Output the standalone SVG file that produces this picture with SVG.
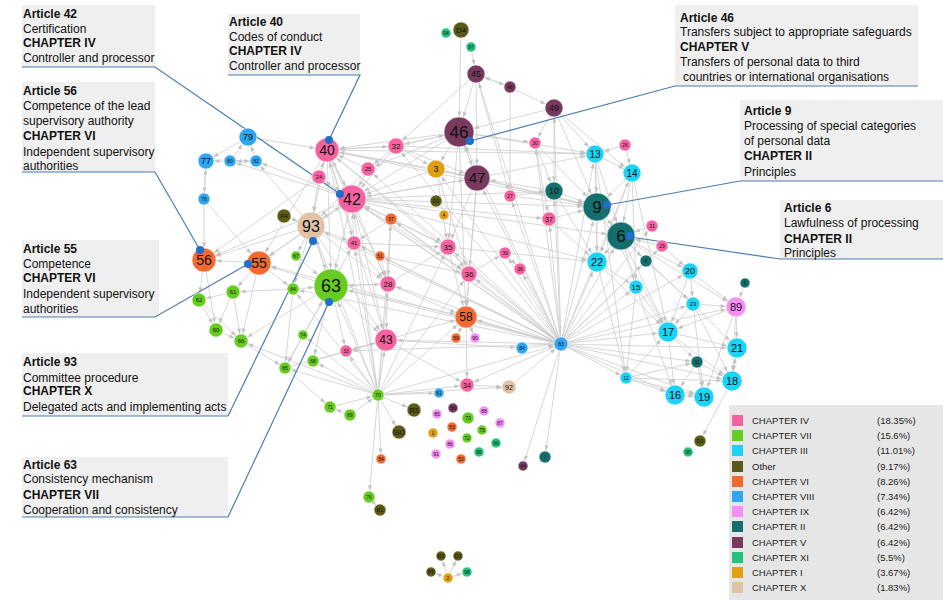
<svg xmlns="http://www.w3.org/2000/svg" width="943" height="600" viewBox="0 0 943 600">
<style>
text{font-family:"Liberation Sans",Arial,sans-serif;}
.lbl text{fill:#111;text-anchor:middle;}
#edges line{stroke:#cdcdcd;stroke-width:0.8;fill:none;}
.m5{marker-end:url(#a5)}.m6{marker-end:url(#a6)}.m7{marker-end:url(#a7)}.m8{marker-end:url(#a8)}.m9{marker-end:url(#a9)}.m10{marker-end:url(#a10)}.m11{marker-end:url(#a11)}.m12{marker-end:url(#a12)}.m13{marker-end:url(#a13)}.m14{marker-end:url(#a14)}.m15{marker-end:url(#a15)}.m17{marker-end:url(#a17)}
circle.n{stroke:#ffffff;stroke-opacity:0.55;stroke-width:1;}
.c4{fill:#f7619f}.c7{fill:#66cc22}.c3{fill:#1ad3f5}.co{fill:#5b5a16}.c6{fill:#f26a30}.c8{fill:#2fa6f0}.c9{fill:#f58ef5}.c2{fill:#146e6e}.c5{fill:#773a5e}.c11{fill:#25c27c}.c1{fill:#e0a012}.c10{fill:#e0c2a4}
.t18{font-size:18px}.t17{font-size:17px}.t16{font-size:16px}.t15{font-size:15px}.t14{font-size:14px}.t12{font-size:12px}.t11{font-size:11px}.t10{font-size:10px}.t9{font-size:9px}.t8{font-size:8px}.t7{font-size:7px}.t6{font-size:6px}.t5{font-size:5px}
.box{fill:#efefef}
.ul{stroke:#4a7cb3;stroke-width:1.2;fill:none}
.dot{fill:#1f6fcc}
.ct{font-size:12px;fill:#111}
.ct .b{font-weight:bold}
.lg{font-size:9.5px;fill:#222}
</style>
<defs>
<marker id="a5" markerUnits="userSpaceOnUse" markerWidth="6" markerHeight="6" refX="10.5" refY="3" orient="auto" overflow="visible"><path d="M0,1 L5,3 L0,5 z" fill="#c2c2c2"/></marker>
<marker id="a6" markerUnits="userSpaceOnUse" markerWidth="6" markerHeight="6" refX="11.5" refY="3" orient="auto" overflow="visible"><path d="M0,1 L5,3 L0,5 z" fill="#c2c2c2"/></marker>
<marker id="a7" markerUnits="userSpaceOnUse" markerWidth="6" markerHeight="6" refX="12.5" refY="3" orient="auto" overflow="visible"><path d="M0,1 L5,3 L0,5 z" fill="#c2c2c2"/></marker>
<marker id="a8" markerUnits="userSpaceOnUse" markerWidth="6" markerHeight="6" refX="13.5" refY="3" orient="auto" overflow="visible"><path d="M0,1 L5,3 L0,5 z" fill="#c2c2c2"/></marker>
<marker id="a9" markerUnits="userSpaceOnUse" markerWidth="6" markerHeight="6" refX="14.5" refY="3" orient="auto" overflow="visible"><path d="M0,1 L5,3 L0,5 z" fill="#c2c2c2"/></marker>
<marker id="a10" markerUnits="userSpaceOnUse" markerWidth="6" markerHeight="6" refX="15.5" refY="3" orient="auto" overflow="visible"><path d="M0,1 L5,3 L0,5 z" fill="#c2c2c2"/></marker>
<marker id="a11" markerUnits="userSpaceOnUse" markerWidth="6" markerHeight="6" refX="16.5" refY="3" orient="auto" overflow="visible"><path d="M0,1 L5,3 L0,5 z" fill="#c2c2c2"/></marker>
<marker id="a12" markerUnits="userSpaceOnUse" markerWidth="6" markerHeight="6" refX="17.5" refY="3" orient="auto" overflow="visible"><path d="M0,1 L5,3 L0,5 z" fill="#c2c2c2"/></marker>
<marker id="a13" markerUnits="userSpaceOnUse" markerWidth="6" markerHeight="6" refX="18.5" refY="3" orient="auto" overflow="visible"><path d="M0,1 L5,3 L0,5 z" fill="#c2c2c2"/></marker>
<marker id="a14" markerUnits="userSpaceOnUse" markerWidth="6" markerHeight="6" refX="19.5" refY="3" orient="auto" overflow="visible"><path d="M0,1 L5,3 L0,5 z" fill="#c2c2c2"/></marker>
<marker id="a15" markerUnits="userSpaceOnUse" markerWidth="6" markerHeight="6" refX="20.5" refY="3" orient="auto" overflow="visible"><path d="M0,1 L5,3 L0,5 z" fill="#c2c2c2"/></marker>
<marker id="a17" markerUnits="userSpaceOnUse" markerWidth="6" markerHeight="6" refX="22.5" refY="3" orient="auto" overflow="visible"><path d="M0,1 L5,3 L0,5 z" fill="#c2c2c2"/></marker>
</defs>
<rect width="943" height="600" fill="#ffffff"/>
<g id="edges">
<line x1="248" y1="137" x2="206" y2="161" class="m8"/>
<line x1="230" y1="161" x2="206" y2="161" class="m8"/>
<line x1="256" y1="161" x2="230" y2="161" class="m6"/>
<line x1="230" y1="161" x2="256" y2="161" class="m6"/>
<line x1="230" y1="161" x2="248" y2="137" class="m9"/>
<line x1="256" y1="161" x2="248" y2="137" class="m9"/>
<line x1="206" y1="161" x2="204" y2="199" class="m6"/>
<line x1="204" y1="199" x2="206" y2="161" class="m8"/>
<line x1="204" y1="199" x2="204" y2="260" class="m12"/>
<line x1="204" y1="199" x2="259" y2="263" class="m12"/>
<line x1="352" y1="199" x2="256" y2="161" class="m6"/>
<line x1="352" y1="199" x2="230" y2="161" class="m6"/>
<line x1="248" y1="137" x2="327" y2="150" class="m12"/>
<line x1="311" y1="226" x2="256" y2="161" class="m6"/>
<line x1="461" y1="30" x2="459" y2="132" class="m15"/>
<line x1="471" y1="47" x2="476" y2="74" class="m9"/>
<line x1="476" y1="74" x2="459" y2="132" class="m15"/>
<line x1="476" y1="74" x2="510" y2="87" class="m6"/>
<line x1="510" y1="87" x2="476" y2="74" class="m9"/>
<line x1="510" y1="87" x2="554" y2="108" class="m9"/>
<line x1="554" y1="108" x2="459" y2="132" class="m15"/>
<line x1="554" y1="108" x2="595" y2="154" class="m9"/>
<line x1="554" y1="108" x2="535" y2="143" class="m6"/>
<line x1="476" y1="74" x2="477" y2="178" class="m13"/>
<line x1="476" y1="74" x2="396" y2="146" class="m8"/>
<line x1="510" y1="87" x2="510" y2="196" class="m6"/>
<line x1="476" y1="74" x2="510" y2="196" class="m6"/>
<line x1="459" y1="132" x2="396" y2="146" class="m8"/>
<line x1="396" y1="146" x2="459" y2="132" class="m15"/>
<line x1="459" y1="132" x2="477" y2="178" class="m13"/>
<line x1="477" y1="178" x2="459" y2="132" class="m15"/>
<line x1="459" y1="132" x2="436" y2="169" class="m9"/>
<line x1="459" y1="132" x2="595" y2="154" class="m9"/>
<line x1="459" y1="132" x2="535" y2="143" class="m6"/>
<line x1="459" y1="132" x2="327" y2="150" class="m12"/>
<line x1="459" y1="132" x2="352" y2="199" class="m14"/>
<line x1="554" y1="108" x2="597" y2="207" class="m14"/>
<line x1="554" y1="108" x2="554" y2="191" class="m9"/>
<line x1="554" y1="108" x2="632" y2="173" class="m9"/>
<line x1="535" y1="143" x2="554" y2="191" class="m9"/>
<line x1="535" y1="143" x2="597" y2="207" class="m14"/>
<line x1="535" y1="143" x2="549" y2="219" class="m7"/>
<line x1="595" y1="154" x2="597" y2="207" class="m14"/>
<line x1="595" y1="154" x2="632" y2="173" class="m9"/>
<line x1="625" y1="145" x2="595" y2="154" class="m9"/>
<line x1="625" y1="145" x2="632" y2="173" class="m9"/>
<line x1="632" y1="173" x2="597" y2="207" class="m14"/>
<line x1="632" y1="173" x2="621" y2="236" class="m14"/>
<line x1="595" y1="154" x2="621" y2="236" class="m14"/>
<line x1="595" y1="154" x2="597" y2="262" class="m10"/>
<line x1="632" y1="173" x2="597" y2="262" class="m10"/>
<line x1="632" y1="173" x2="668" y2="332" class="m10"/>
<line x1="597" y1="207" x2="621" y2="236" class="m14"/>
<line x1="597" y1="207" x2="597" y2="262" class="m10"/>
<line x1="621" y1="236" x2="597" y2="262" class="m10"/>
<line x1="621" y1="236" x2="646" y2="261" class="m6"/>
<line x1="621" y1="236" x2="690" y2="271" class="m8"/>
<line x1="662" y1="246" x2="621" y2="236" class="m14"/>
<line x1="652" y1="226" x2="621" y2="236" class="m14"/>
<line x1="554" y1="191" x2="597" y2="207" class="m14"/>
<line x1="549" y1="219" x2="597" y2="207" class="m14"/>
<line x1="510" y1="196" x2="597" y2="207" class="m14"/>
<line x1="477" y1="178" x2="597" y2="207" class="m14"/>
<line x1="477" y1="178" x2="595" y2="154" class="m9"/>
<line x1="436" y1="169" x2="597" y2="207" class="m14"/>
<line x1="554" y1="191" x2="477" y2="178" class="m13"/>
<line x1="597" y1="262" x2="636" y2="287" class="m7"/>
<line x1="597" y1="262" x2="626" y2="378" class="m6"/>
<line x1="597" y1="262" x2="668" y2="332" class="m10"/>
<line x1="636" y1="287" x2="668" y2="332" class="m10"/>
<line x1="636" y1="287" x2="626" y2="378" class="m6"/>
<line x1="621" y1="236" x2="636" y2="287" class="m7"/>
<line x1="621" y1="236" x2="668" y2="332" class="m10"/>
<line x1="621" y1="236" x2="693" y2="304" class="m7"/>
<line x1="621" y1="236" x2="736" y2="307" class="m10"/>
<line x1="597" y1="207" x2="668" y2="332" class="m10"/>
<line x1="690" y1="271" x2="693" y2="304" class="m7"/>
<line x1="693" y1="304" x2="668" y2="332" class="m10"/>
<line x1="693" y1="304" x2="736" y2="307" class="m10"/>
<line x1="745" y1="283" x2="736" y2="307" class="m10"/>
<line x1="736" y1="307" x2="737" y2="348" class="m10"/>
<line x1="737" y1="348" x2="732" y2="381" class="m10"/>
<line x1="732" y1="381" x2="737" y2="348" class="m10"/>
<line x1="668" y1="332" x2="697" y2="362" class="m6"/>
<line x1="697" y1="362" x2="732" y2="381" class="m10"/>
<line x1="697" y1="362" x2="675" y2="395" class="m10"/>
<line x1="697" y1="362" x2="704" y2="397" class="m10"/>
<line x1="675" y1="395" x2="704" y2="397" class="m10"/>
<line x1="626" y1="378" x2="675" y2="395" class="m10"/>
<line x1="626" y1="378" x2="668" y2="332" class="m10"/>
<line x1="626" y1="378" x2="704" y2="397" class="m10"/>
<line x1="626" y1="378" x2="732" y2="381" class="m10"/>
<line x1="693" y1="304" x2="737" y2="348" class="m10"/>
<line x1="693" y1="304" x2="704" y2="397" class="m10"/>
<line x1="693" y1="304" x2="732" y2="381" class="m10"/>
<line x1="690" y1="271" x2="668" y2="332" class="m10"/>
<line x1="736" y1="307" x2="732" y2="381" class="m10"/>
<line x1="736" y1="307" x2="704" y2="397" class="m10"/>
<line x1="736" y1="307" x2="668" y2="332" class="m10"/>
<line x1="668" y1="332" x2="737" y2="348" class="m10"/>
<line x1="668" y1="332" x2="675" y2="395" class="m10"/>
<line x1="636" y1="287" x2="675" y2="395" class="m10"/>
<line x1="732" y1="381" x2="700" y2="441" class="m6"/>
<line x1="595" y1="154" x2="626" y2="378" class="m6"/>
<line x1="632" y1="173" x2="636" y2="287" class="m7"/>
<line x1="662" y1="246" x2="690" y2="271" class="m8"/>
<line x1="646" y1="261" x2="693" y2="304" class="m7"/>
<line x1="690" y1="271" x2="736" y2="307" class="m10"/>
<line x1="668" y1="332" x2="732" y2="381" class="m10"/>
<line x1="626" y1="378" x2="697" y2="362" class="m6"/>
<line x1="327" y1="150" x2="352" y2="199" class="m14"/>
<line x1="352" y1="199" x2="327" y2="150" class="m12"/>
<line x1="319" y1="177" x2="352" y2="199" class="m14"/>
<line x1="319" y1="177" x2="327" y2="150" class="m12"/>
<line x1="368" y1="169" x2="327" y2="150" class="m12"/>
<line x1="368" y1="169" x2="352" y2="199" class="m14"/>
<line x1="396" y1="146" x2="327" y2="150" class="m12"/>
<line x1="327" y1="150" x2="396" y2="146" class="m8"/>
<line x1="396" y1="146" x2="352" y2="199" class="m14"/>
<line x1="352" y1="199" x2="311" y2="226" class="m14"/>
<line x1="311" y1="226" x2="352" y2="199" class="m14"/>
<line x1="327" y1="150" x2="311" y2="226" class="m14"/>
<line x1="319" y1="177" x2="311" y2="226" class="m14"/>
<line x1="354" y1="243" x2="352" y2="199" class="m14"/>
<line x1="391" y1="219" x2="352" y2="199" class="m14"/>
<line x1="352" y1="199" x2="331" y2="286" class="m17"/>
<line x1="327" y1="150" x2="331" y2="286" class="m17"/>
<line x1="327" y1="150" x2="354" y2="243" class="m7"/>
<line x1="327" y1="150" x2="388" y2="284" class="m8"/>
<line x1="352" y1="199" x2="388" y2="284" class="m8"/>
<line x1="352" y1="199" x2="386" y2="340" class="m11"/>
<line x1="327" y1="150" x2="386" y2="340" class="m11"/>
<line x1="436" y1="169" x2="352" y2="199" class="m14"/>
<line x1="436" y1="169" x2="327" y2="150" class="m12"/>
<line x1="477" y1="178" x2="352" y2="199" class="m14"/>
<line x1="477" y1="178" x2="327" y2="150" class="m12"/>
<line x1="459" y1="132" x2="368" y2="169" class="m7"/>
<line x1="396" y1="146" x2="436" y2="169" class="m9"/>
<line x1="396" y1="146" x2="477" y2="178" class="m13"/>
<line x1="352" y1="199" x2="477" y2="178" class="m13"/>
<line x1="352" y1="199" x2="448" y2="247" class="m8"/>
<line x1="327" y1="150" x2="448" y2="247" class="m8"/>
<line x1="352" y1="199" x2="469" y2="274" class="m8"/>
<line x1="352" y1="199" x2="549" y2="219" class="m7"/>
<line x1="352" y1="199" x2="554" y2="191" class="m9"/>
<line x1="352" y1="199" x2="597" y2="207" class="m14"/>
<line x1="327" y1="150" x2="597" y2="207" class="m14"/>
<line x1="327" y1="150" x2="595" y2="154" class="m9"/>
<line x1="396" y1="146" x2="595" y2="154" class="m9"/>
<line x1="352" y1="199" x2="597" y2="262" class="m10"/>
<line x1="352" y1="199" x2="621" y2="236" class="m14"/>
<line x1="352" y1="199" x2="204" y2="260" class="m12"/>
<line x1="327" y1="150" x2="259" y2="263" class="m12"/>
<line x1="352" y1="199" x2="259" y2="263" class="m12"/>
<line x1="319" y1="177" x2="204" y2="260" class="m12"/>
<line x1="368" y1="169" x2="311" y2="226" class="m14"/>
<line x1="436" y1="169" x2="477" y2="178" class="m13"/>
<line x1="396" y1="146" x2="368" y2="169" class="m7"/>
<line x1="284" y1="216" x2="311" y2="226" class="m14"/>
<line x1="311" y1="226" x2="204" y2="260" class="m12"/>
<line x1="311" y1="226" x2="259" y2="263" class="m12"/>
<line x1="311" y1="226" x2="331" y2="286" class="m17"/>
<line x1="331" y1="286" x2="311" y2="226" class="m14"/>
<line x1="311" y1="226" x2="354" y2="243" class="m7"/>
<line x1="311" y1="226" x2="293" y2="289" class="m6"/>
<line x1="311" y1="226" x2="388" y2="284" class="m8"/>
<line x1="311" y1="226" x2="386" y2="340" class="m11"/>
<line x1="311" y1="226" x2="296" y2="256" class="m5"/>
<line x1="259" y1="263" x2="204" y2="260" class="m12"/>
<line x1="204" y1="260" x2="199" y2="300" class="m7"/>
<line x1="259" y1="263" x2="233" y2="292" class="m7"/>
<line x1="233" y1="292" x2="199" y2="300" class="m7"/>
<line x1="199" y1="300" x2="216" y2="330" class="m7"/>
<line x1="216" y1="330" x2="241" y2="341" class="m7"/>
<line x1="233" y1="292" x2="241" y2="341" class="m7"/>
<line x1="241" y1="341" x2="285" y2="368" class="m6"/>
<line x1="293" y1="289" x2="233" y2="292" class="m7"/>
<line x1="293" y1="289" x2="285" y2="368" class="m6"/>
<line x1="303" y1="335" x2="285" y2="368" class="m6"/>
<line x1="296" y1="256" x2="331" y2="286" class="m17"/>
<line x1="293" y1="289" x2="331" y2="286" class="m17"/>
<line x1="199" y1="300" x2="241" y2="341" class="m7"/>
<line x1="259" y1="263" x2="293" y2="289" class="m6"/>
<line x1="331" y1="286" x2="259" y2="263" class="m12"/>
<line x1="331" y1="286" x2="354" y2="243" class="m7"/>
<line x1="331" y1="286" x2="388" y2="284" class="m8"/>
<line x1="388" y1="284" x2="331" y2="286" class="m17"/>
<line x1="331" y1="286" x2="386" y2="340" class="m11"/>
<line x1="331" y1="286" x2="346" y2="351" class="m6"/>
<line x1="331" y1="286" x2="313" y2="361" class="m6"/>
<line x1="331" y1="286" x2="285" y2="368" class="m6"/>
<line x1="331" y1="286" x2="241" y2="341" class="m7"/>
<line x1="233" y1="292" x2="216" y2="330" class="m7"/>
<line x1="204" y1="260" x2="216" y2="330" class="m7"/>
<line x1="259" y1="263" x2="241" y2="341" class="m7"/>
<line x1="388" y1="284" x2="386" y2="340" class="m11"/>
<line x1="391" y1="219" x2="388" y2="284" class="m8"/>
<line x1="380" y1="256" x2="388" y2="284" class="m8"/>
<line x1="391" y1="219" x2="354" y2="243" class="m7"/>
<line x1="380" y1="256" x2="354" y2="243" class="m7"/>
<line x1="354" y1="243" x2="388" y2="284" class="m8"/>
<line x1="386" y1="340" x2="346" y2="351" class="m6"/>
<line x1="388" y1="284" x2="466" y2="317" class="m11"/>
<line x1="386" y1="340" x2="466" y2="317" class="m11"/>
<line x1="448" y1="247" x2="469" y2="274" class="m8"/>
<line x1="469" y1="274" x2="466" y2="317" class="m11"/>
<line x1="466" y1="317" x2="456" y2="338" class="m5"/>
<line x1="466" y1="317" x2="475" y2="338" class="m5"/>
<line x1="466" y1="317" x2="561" y2="344" class="m7"/>
<line x1="561" y1="344" x2="466" y2="317" class="m11"/>
<line x1="505" y1="253" x2="520" y2="269" class="m6"/>
<line x1="469" y1="274" x2="505" y2="253" class="m6"/>
<line x1="448" y1="247" x2="466" y2="317" class="m11"/>
<line x1="354" y1="243" x2="448" y2="247" class="m8"/>
<line x1="388" y1="284" x2="448" y2="247" class="m8"/>
<line x1="391" y1="219" x2="448" y2="247" class="m8"/>
<line x1="391" y1="219" x2="469" y2="274" class="m8"/>
<line x1="380" y1="256" x2="469" y2="274" class="m8"/>
<line x1="436" y1="169" x2="448" y2="247" class="m8"/>
<line x1="436" y1="169" x2="469" y2="274" class="m8"/>
<line x1="477" y1="178" x2="448" y2="247" class="m8"/>
<line x1="477" y1="178" x2="469" y2="274" class="m8"/>
<line x1="477" y1="178" x2="466" y2="317" class="m11"/>
<line x1="459" y1="132" x2="448" y2="247" class="m8"/>
<line x1="459" y1="132" x2="466" y2="317" class="m11"/>
<line x1="448" y1="247" x2="597" y2="262" class="m10"/>
<line x1="549" y1="219" x2="597" y2="262" class="m10"/>
<line x1="554" y1="191" x2="597" y2="262" class="m10"/>
<line x1="510" y1="196" x2="554" y2="191" class="m9"/>
<line x1="386" y1="340" x2="522" y2="348" class="m6"/>
<line x1="522" y1="348" x2="561" y2="344" class="m7"/>
<line x1="313" y1="361" x2="386" y2="340" class="m11"/>
<line x1="285" y1="368" x2="386" y2="340" class="m11"/>
<line x1="303" y1="335" x2="331" y2="286" class="m17"/>
<line x1="331" y1="286" x2="466" y2="317" class="m11"/>
<line x1="467" y1="385" x2="509" y2="387" class="m7"/>
<line x1="509" y1="387" x2="561" y2="344" class="m7"/>
<line x1="466" y1="317" x2="467" y2="385" class="m7"/>
<line x1="386" y1="340" x2="467" y2="385" class="m7"/>
<line x1="448" y1="578" x2="441" y2="556" class="m5"/>
<line x1="448" y1="578" x2="458" y2="556" class="m5"/>
<line x1="448" y1="578" x2="431" y2="572" class="m5"/>
<line x1="448" y1="578" x2="467" y2="572" class="m5"/>
<line x1="369" y1="497" x2="380" y2="510" class="m6"/>
<line x1="378" y1="395" x2="369" y2="497" class="m6"/>
<line x1="378" y1="395" x2="381" y2="459" class="m5"/>
<line x1="378" y1="395" x2="399" y2="432" class="m7"/>
<line x1="378" y1="395" x2="414" y2="410" class="m7"/>
<line x1="330" y1="407" x2="378" y2="395" class="m6"/>
<line x1="350" y1="415" x2="378" y2="395" class="m6"/>
<line x1="350" y1="415" x2="330" y2="407" class="m6"/>
<line x1="285" y1="368" x2="330" y2="407" class="m6"/>
<line x1="378" y1="395" x2="331" y2="286" class="m17"/>
<line x1="378" y1="395" x2="293" y2="289" class="m6"/>
<line x1="378" y1="395" x2="285" y2="368" class="m6"/>
<line x1="378" y1="395" x2="241" y2="341" class="m7"/>
<line x1="378" y1="395" x2="313" y2="361" class="m6"/>
<line x1="378" y1="395" x2="303" y2="335" class="m5"/>
<line x1="378" y1="395" x2="386" y2="340" class="m11"/>
<line x1="378" y1="395" x2="346" y2="351" class="m6"/>
<line x1="378" y1="395" x2="388" y2="284" class="m8"/>
<line x1="378" y1="395" x2="352" y2="199" class="m14"/>
<line x1="378" y1="395" x2="327" y2="150" class="m12"/>
<line x1="378" y1="395" x2="354" y2="243" class="m7"/>
<line x1="378" y1="395" x2="311" y2="226" class="m14"/>
<line x1="378" y1="395" x2="466" y2="317" class="m11"/>
<line x1="378" y1="395" x2="448" y2="247" class="m8"/>
<line x1="378" y1="395" x2="561" y2="344" class="m7"/>
<line x1="378" y1="395" x2="439" y2="393" class="m5"/>
<line x1="378" y1="395" x2="467" y2="385" class="m7"/>
<line x1="378" y1="395" x2="509" y2="387" class="m7"/>
<line x1="378" y1="395" x2="391" y2="219" class="m6"/>
<line x1="378" y1="395" x2="469" y2="274" class="m8"/>
<line x1="561" y1="344" x2="352" y2="199" class="m14"/>
<line x1="561" y1="344" x2="327" y2="150" class="m12"/>
<line x1="561" y1="344" x2="459" y2="132" class="m15"/>
<line x1="561" y1="344" x2="477" y2="178" class="m13"/>
<line x1="561" y1="344" x2="597" y2="207" class="m14"/>
<line x1="561" y1="344" x2="621" y2="236" class="m14"/>
<line x1="561" y1="344" x2="597" y2="262" class="m10"/>
<line x1="561" y1="344" x2="595" y2="154" class="m9"/>
<line x1="561" y1="344" x2="632" y2="173" class="m9"/>
<line x1="561" y1="344" x2="554" y2="191" class="m9"/>
<line x1="561" y1="344" x2="549" y2="219" class="m7"/>
<line x1="561" y1="344" x2="510" y2="196" class="m6"/>
<line x1="561" y1="344" x2="436" y2="169" class="m9"/>
<line x1="561" y1="344" x2="448" y2="247" class="m8"/>
<line x1="561" y1="344" x2="469" y2="274" class="m8"/>
<line x1="561" y1="344" x2="388" y2="284" class="m8"/>
<line x1="561" y1="344" x2="386" y2="340" class="m11"/>
<line x1="561" y1="344" x2="331" y2="286" class="m17"/>
<line x1="561" y1="344" x2="311" y2="226" class="m14"/>
<line x1="561" y1="344" x2="354" y2="243" class="m7"/>
<line x1="561" y1="344" x2="391" y2="219" class="m6"/>
<line x1="561" y1="344" x2="505" y2="253" class="m6"/>
<line x1="561" y1="344" x2="520" y2="269" class="m6"/>
<line x1="561" y1="344" x2="636" y2="287" class="m7"/>
<line x1="561" y1="344" x2="668" y2="332" class="m10"/>
<line x1="561" y1="344" x2="626" y2="378" class="m6"/>
<line x1="561" y1="344" x2="675" y2="395" class="m10"/>
<line x1="561" y1="344" x2="704" y2="397" class="m10"/>
<line x1="561" y1="344" x2="732" y2="381" class="m10"/>
<line x1="561" y1="344" x2="737" y2="348" class="m10"/>
<line x1="561" y1="344" x2="693" y2="304" class="m7"/>
<line x1="561" y1="344" x2="690" y2="271" class="m8"/>
<line x1="561" y1="344" x2="736" y2="307" class="m10"/>
<line x1="561" y1="344" x2="646" y2="261" class="m6"/>
<line x1="561" y1="344" x2="697" y2="362" class="m6"/>
<line x1="561" y1="344" x2="545" y2="457" class="m6"/>
<line x1="561" y1="344" x2="523" y2="466" class="m5"/>
<line x1="561" y1="344" x2="346" y2="351" class="m6"/>
<line x1="561" y1="344" x2="319" y2="177" class="m7"/>
<line x1="561" y1="344" x2="368" y2="169" class="m7"/>
<line x1="561" y1="344" x2="396" y2="146" class="m8"/>
<line x1="561" y1="344" x2="476" y2="74" class="m9"/>
<line x1="561" y1="344" x2="554" y2="108" class="m9"/>
<line x1="561" y1="344" x2="535" y2="143" class="m6"/>
<line x1="561" y1="344" x2="652" y2="226" class="m6"/>
<line x1="561" y1="344" x2="662" y2="246" class="m6"/>
<line x1="561" y1="344" x2="259" y2="263" class="m12"/>
<line x1="561" y1="344" x2="293" y2="289" class="m6"/>
<line x1="561" y1="344" x2="380" y2="256" class="m5"/>
<line x1="561" y1="344" x2="467" y2="385" class="m7"/>
</g>
<g id="callouts">
<rect class="box" x="22" y="5" width="133" height="62"/>
<path class="ul" d="M22,67 H155 L340,194"/>
<text class="ct" x="23"><tspan class="b" x="23" y="18">Article 42</tspan><tspan x="23" y="33">Certification</tspan><tspan class="b" x="23" y="47">CHAPTER IV</tspan><tspan x="23" y="62">Controller and processor</tspan></text>
<rect class="box" x="228" y="14" width="132" height="61"/>
<path class="ul" d="M228,75 H360 L329,140"/>
<text class="ct"><tspan class="b" x="229" y="26">Article 40</tspan><tspan x="229" y="41">Codes of conduct</tspan><tspan class="b" x="229" y="55">CHAPTER IV</tspan><tspan x="229" y="70">Controller and processor</tspan></text>
<rect class="box" x="22" y="82" width="133" height="90"/>
<path class="ul" d="M22,172 H155 L200,250"/>
<text class="ct"><tspan class="b" x="23" y="95">Article 56</tspan><tspan x="23" y="110">Competence of the lead</tspan><tspan x="23" y="125">supervisory authority</tspan><tspan class="b" x="23" y="140">CHAPTER VI</tspan><tspan x="23" y="156">Independent supervisory</tspan><tspan x="23" y="170">authorities</tspan></text>
<rect class="box" x="22" y="240" width="137" height="77"/>
<path class="ul" d="M22,317 H155 L248,264"/>
<text class="ct"><tspan class="b" x="23" y="253">Article 55</tspan><tspan x="23" y="267.5">Competence</tspan><tspan class="b" x="23" y="282">CHAPTER VI</tspan><tspan x="23" y="297.5">Independent supervisory</tspan><tspan x="23" y="313">authorities</tspan></text>
<rect class="box" x="22" y="353" width="206" height="63"/>
<path class="ul" d="M22,416 H228 L313,241"/>
<text class="ct"><tspan class="b" x="23" y="366">Article 93</tspan><tspan x="23" y="381.5">Committee procedure</tspan><tspan class="b" x="23" y="395">CHAPTER X</tspan><tspan x="23" y="410.5">Delegated acts and implementing acts</tspan></text>
<rect class="box" x="22" y="457" width="206" height="60"/>
<path class="ul" d="M22,517 H228 L329,302"/>
<text class="ct"><tspan class="b" x="23" y="469">Article 63</tspan><tspan x="23" y="482.5">Consistency mechanism</tspan><tspan class="b" x="23" y="498.5">CHAPTER VII</tspan><tspan x="23" y="514">Cooperation and consistency</tspan></text>
<rect class="box" x="675" y="5" width="243" height="81"/>
<path class="ul" d="M918,86 H675 L470,141"/>
<text class="ct"><tspan class="b" x="680" y="21.5">Article 46</tspan><tspan x="680" y="36">Transfers subject to appropriate safeguards</tspan><tspan class="b" x="680" y="50.5">CHAPTER V</tspan><tspan x="680" y="65.5">Transfers of personal data to third</tspan><tspan x="683" y="80.5">countries or international organisations</tspan></text>
<rect class="box" x="740" y="100" width="203" height="81"/>
<path class="ul" d="M943,181 H740 L607,205"/>
<text class="ct"><tspan class="b" x="744" y="114.5">Article 9</tspan><tspan x="744" y="129.5">Processing of special categories</tspan><tspan x="744" y="144.5">of personal data</tspan><tspan class="b" x="744" y="159.5">CHAPTER II</tspan><tspan x="744" y="175.5">Principles</tspan></text>
<rect class="box" x="780" y="200" width="163" height="59"/>
<path class="ul" d="M943,259 H780 L630,237"/>
<text class="ct"><tspan class="b" x="784" y="211.5">Article 6</tspan><tspan x="784" y="226.5">Lawfulness of processing</tspan><tspan class="b" x="784" y="242.5">CHAPTER II</tspan><tspan x="784" y="256.5">Principles</tspan></text>
</g>
<g class="lbl">
<g id="n79"><circle class="n c8" cx="248" cy="137" r="9"/><text class="t9" x="248" y="140.2">79</text></g>
<g id="n77"><circle class="n c8" cx="206" cy="161" r="8"/><text class="t9" x="206" y="164.2">77</text></g>
<g id="n80"><circle class="n c8" cx="230" cy="161" r="6"/><text class="t5" x="230" y="162.8">80</text></g>
<g id="n82"><circle class="n c8" cx="256" cy="161" r="6"/><text class="t5" x="256" y="162.8">82</text></g>
<g id="n78"><circle class="n c8" cx="204" cy="199" r="6"/><text class="t5" x="204" y="200.8">78</text></g>
<g id="n40"><circle class="n c4" cx="327" cy="150" r="12"/><text class="t14" x="327" y="154.9">40</text></g>
<g id="n32"><circle class="n c4" cx="396" cy="146" r="8"/><text class="t8" x="396" y="148.8">32</text></g>
<g id="n24"><circle class="n c4" cx="319" cy="177" r="7"/><text class="t6" x="319" y="179.1">24</text></g>
<g id="n25"><circle class="n c4" cx="368" cy="169" r="7"/><text class="t6" x="368" y="171.1">25</text></g>
<g id="n42"><circle class="n c4" cx="352" cy="199" r="14"/><text class="t16" x="352" y="204.6">42</text></g>
<g id="nR4"><circle class="n co" cx="284" cy="216" r="7"/><text class="t6" x="284" y="218.1">R4</text></g>
<g id="n93"><circle class="n c10" cx="311" cy="226" r="14"/><text class="t16" x="311" y="231.6">93</text></g>
<g id="n57"><circle class="n c6" cx="391" cy="219" r="6"/><text class="t5" x="391" y="220.8">57</text></g>
<g id="n41"><circle class="n c4" cx="354" cy="243" r="7"/><text class="t6" x="354" y="245.1">41</text></g>
<g id="n94"><circle class="n c11" cx="446" cy="33" r="5"/><text class="t5" x="446" y="34.8">94</text></g>
<g id="nD4"><circle class="n co" cx="461" cy="30" r="8"/><text class="t8" x="461" y="32.8">D4</text></g>
<g id="n97"><circle class="n c11" cx="471" cy="47" r="5"/><text class="t5" x="471" y="48.8">97</text></g>
<g id="n45"><circle class="n c5" cx="476" cy="74" r="9"/><text class="t9" x="476" y="77.2">45</text></g>
<g id="n48"><circle class="n c5" cx="510" cy="87" r="6"/><text class="t5" x="510" y="88.8">48</text></g>
<g id="n49"><circle class="n c5" cx="554" cy="108" r="9"/><text class="t9" x="554" y="111.2">49</text></g>
<g id="n46"><circle class="n c5" cx="459" cy="132" r="15"/><text class="t17" x="459" y="138">46</text></g>
<g id="n30"><circle class="n c4" cx="535" cy="143" r="6"/><text class="t5" x="535" y="144.8">30</text></g>
<g id="n13"><circle class="n c3" cx="595" cy="154" r="9"/><text class="t10" x="595" y="157.5">13</text></g>
<g id="n3"><circle class="n c1" cx="436" cy="169" r="9"/><text class="t9" x="436" y="172.2">3</text></g>
<g id="n47"><circle class="n c5" cx="477" cy="178" r="13"/><text class="t15" x="477" y="183.3">47</text></g>
<g id="n27"><circle class="n c4" cx="510" cy="196" r="6"/><text class="t5" x="510" y="197.8">27</text></g>
<g id="n10"><circle class="n c2" cx="554" cy="191" r="9"/><text class="t9" x="554" y="194.2">10</text></g>
<g id="n26"><circle class="n c4" cx="625" cy="145" r="6"/><text class="t5" x="625" y="146.8">26</text></g>
<g id="n14"><circle class="n c3" cx="632" cy="173" r="9"/><text class="t10" x="632" y="176.5">14</text></g>
<g id="n9"><circle class="n c2" cx="597" cy="207" r="14"/><text class="t17" x="597" y="213">9</text></g>
<g id="n37"><circle class="n c4" cx="549" cy="219" r="7"/><text class="t7" x="549" y="221.5">37</text></g>
<g id="n31"><circle class="n c4" cx="652" cy="226" r="6"/><text class="t5" x="652" y="227.8">31</text></g>
<g id="n6"><circle class="n c2" cx="621" cy="236" r="14"/><text class="t17" x="621" y="242">6</text></g>
<g id="n29"><circle class="n c4" cx="662" cy="246" r="6"/><text class="t5" x="662" y="247.8">29</text></g>
<g id="n22"><circle class="n c3" cx="597" cy="262" r="10"/><text class="t11" x="597" y="265.9">22</text></g>
<g id="n8"><circle class="n c2" cx="646" cy="261" r="6"/><text class="t5" x="646" y="262.8">8</text></g>
<g id="n20"><circle class="n c3" cx="690" cy="271" r="8"/><text class="t9" x="690" y="274.2">20</text></g>
<g id="n56"><circle class="n c6" cx="204" cy="260" r="12"/><text class="t14" x="204" y="264.9">56</text></g>
<g id="n55"><circle class="n c6" cx="259" cy="263" r="12"/><text class="t14" x="259" y="267.9">55</text></g>
<g id="n67"><circle class="n c7" cx="296" cy="256" r="5"/><text class="t5" x="296" y="257.8">67</text></g>
<g id="n51"><circle class="n c6" cx="380" cy="256" r="5"/><text class="t5" x="380" y="257.8">51</text></g>
<g id="n62"><circle class="n c7" cx="199" cy="300" r="7"/><text class="t6" x="199" y="302.1">62</text></g>
<g id="n61"><circle class="n c7" cx="233" cy="292" r="7"/><text class="t6" x="233" y="294.1">61</text></g>
<g id="n64"><circle class="n c7" cx="293" cy="289" r="6"/><text class="t5" x="293" y="290.8">64</text></g>
<g id="n63"><circle class="n c7" cx="331" cy="286" r="17"/><text class="t18" x="331" y="292.3">63</text></g>
<g id="n28"><circle class="n c4" cx="388" cy="284" r="8"/><text class="t8" x="388" y="286.8">28</text></g>
<g id="n60"><circle class="n c7" cx="216" cy="330" r="7"/><text class="t6" x="216" y="332.1">60</text></g>
<g id="n66"><circle class="n c7" cx="241" cy="341" r="7"/><text class="t6" x="241" y="343.1">66</text></g>
<g id="n74"><circle class="n c7" cx="303" cy="335" r="5"/><text class="t5" x="303" y="336.8">74</text></g>
<g id="n43"><circle class="n c4" cx="386" cy="340" r="11"/><text class="t12" x="386" y="344.2">43</text></g>
<g id="n33"><circle class="n c4" cx="346" cy="351" r="6"/><text class="t5" x="346" y="352.8">33</text></g>
<g id="n68"><circle class="n c7" cx="313" cy="361" r="6"/><text class="t5" x="313" y="362.8">68</text></g>
<g id="n65"><circle class="n c7" cx="285" cy="368" r="6"/><text class="t5" x="285" y="369.8">65</text></g>
<g id="nD1"><circle class="n co" cx="436" cy="201" r="6"/><text class="t5" x="436" y="202.8">D1</text></g>
<g id="n4"><circle class="n c1" cx="444" cy="215" r="5"/><text class="t5" x="444" y="216.8">4</text></g>
<g id="n35"><circle class="n c4" cx="448" cy="247" r="8"/><text class="t8" x="448" y="249.8">35</text></g>
<g id="n39"><circle class="n c4" cx="505" cy="253" r="6"/><text class="t5" x="505" y="254.8">39</text></g>
<g id="n38"><circle class="n c4" cx="520" cy="269" r="6"/><text class="t5" x="520" y="270.8">38</text></g>
<g id="n36"><circle class="n c4" cx="469" cy="274" r="8"/><text class="t8" x="469" y="276.8">36</text></g>
<g id="n58"><circle class="n c6" cx="466" cy="317" r="11"/><text class="t12" x="466" y="321.2">58</text></g>
<g id="n59"><circle class="n c6" cx="456" cy="338" r="5"/><text class="t5" x="456" y="339.8">59</text></g>
<g id="n90"><circle class="n c9" cx="475" cy="338" r="5"/><text class="t5" x="475" y="339.8">90</text></g>
<g id="n84"><circle class="n c8" cx="522" cy="348" r="6"/><text class="t5" x="522" y="349.8">84</text></g>
<g id="n83"><circle class="n c8" cx="561" cy="344" r="7"/><text class="t5" x="561" y="345.8">83</text></g>
<g id="n5"><circle class="n c2" cx="745" cy="283" r="5"/><text class="t5" x="745" y="284.8">5</text></g>
<g id="n15"><circle class="n c3" cx="636" cy="287" r="7"/><text class="t8" x="636" y="289.8">15</text></g>
<g id="n23"><circle class="n c3" cx="693" cy="304" r="7"/><text class="t6" x="693" y="306.1">23</text></g>
<g id="n89"><circle class="n c9" cx="736" cy="307" r="10"/><text class="t11" x="736" y="310.9">89</text></g>
<g id="n17"><circle class="n c3" cx="668" cy="332" r="10"/><text class="t11" x="668" y="335.9">17</text></g>
<g id="n21"><circle class="n c3" cx="737" cy="348" r="10"/><text class="t11" x="737" y="351.9">21</text></g>
<g id="n11"><circle class="n c2" cx="697" cy="362" r="6"/><text class="t5" x="697" y="363.8">11</text></g>
<g id="n12"><circle class="n c3" cx="626" cy="378" r="6"/><text class="t5" x="626" y="379.8">12</text></g>
<g id="n18"><circle class="n c3" cx="732" cy="381" r="10"/><text class="t11" x="732" y="384.9">18</text></g>
<g id="n16"><circle class="n c3" cx="675" cy="395" r="10"/><text class="t11" x="675" y="398.9">16</text></g>
<g id="n19"><circle class="n c3" cx="704" cy="397" r="10"/><text class="t11" x="704" y="400.9">19</text></g>
<g id="n71"><circle class="n c7" cx="330" cy="407" r="6"/><text class="t5" x="330" y="408.8">71</text></g>
<g id="n69"><circle class="n c7" cx="350" cy="415" r="6"/><text class="t5" x="350" y="416.8">69</text></g>
<g id="n70"><circle class="n c7" cx="378" cy="395" r="6"/><text class="t5" x="378" y="396.8">70</text></g>
<g id="n81"><circle class="n c8" cx="439" cy="393" r="5"/><text class="t5" x="439" y="394.8">81</text></g>
<g id="n34"><circle class="n c4" cx="467" cy="385" r="7"/><text class="t7" x="467" y="387.5">34</text></g>
<g id="n92"><circle class="n c10" cx="509" cy="387" r="7"/><text class="t7" x="509" y="389.5">92</text></g>
<g id="nR3"><circle class="n co" cx="414" cy="410" r="7"/><text class="t7" x="414" y="412.5">R3</text></g>
<g id="nISO"><circle class="n co" cx="399" cy="432" r="7"/><text class="t7" x="399" y="434.5">ISO</text></g>
<g id="n85"><circle class="n c9" cx="437" cy="414" r="5"/><text class="t5" x="437" y="415.8">85</text></g>
<g id="n50"><circle class="n c5" cx="453" cy="408" r="5"/><text class="t5" x="453" y="409.8">50</text></g>
<g id="n73"><circle class="n c7" cx="468" cy="418" r="6"/><text class="t5" x="468" y="419.8">73</text></g>
<g id="n88"><circle class="n c9" cx="484" cy="411" r="5"/><text class="t5" x="484" y="412.8">88</text></g>
<g id="n87"><circle class="n c9" cx="500" cy="423" r="5"/><text class="t5" x="500" y="424.8">87</text></g>
<g id="n53"><circle class="n c6" cx="452" cy="427" r="5"/><text class="t5" x="452" y="428.8">53</text></g>
<g id="n75"><circle class="n c7" cx="482" cy="430" r="5"/><text class="t5" x="482" y="431.8">75</text></g>
<g id="n1"><circle class="n c1" cx="433" cy="433" r="5"/><text class="t5" x="433" y="434.8">1</text></g>
<g id="n72"><circle class="n c7" cx="467" cy="438" r="5"/><text class="t5" x="467" y="439.8">72</text></g>
<g id="n86"><circle class="n c9" cx="450" cy="444" r="5"/><text class="t5" x="450" y="445.8">86</text></g>
<g id="n99"><circle class="n c11" cx="496" cy="443" r="5"/><text class="t5" x="496" y="444.8">99</text></g>
<g id="n96"><circle class="n c11" cx="479" cy="452" r="5"/><text class="t5" x="479" y="453.8">96</text></g>
<g id="n91"><circle class="n c9" cx="436" cy="454" r="5"/><text class="t5" x="436" y="455.8">91</text></g>
<g id="n52"><circle class="n c6" cx="461" cy="459" r="5"/><text class="t5" x="461" y="460.8">52</text></g>
<g id="n54"><circle class="n c6" cx="381" cy="459" r="5"/><text class="t5" x="381" y="460.8">54</text></g>
<g id="n76"><circle class="n c7" cx="369" cy="497" r="6"/><text class="t5" x="369" y="498.8">76</text></g>
<g id="nR1"><circle class="n co" cx="380" cy="510" r="6"/><text class="t5" x="380" y="511.8">R1</text></g>
<g id="n44"><circle class="n c5" cx="523" cy="466" r="5"/><text class="t5" x="523" y="467.8">44</text></g>
<g id="n7"><circle class="n c2" cx="545" cy="457" r="6"/><text class="t5" x="545" y="458.8">7</text></g>
<g id="nD3"><circle class="n co" cx="700" cy="441" r="6"/><text class="t5" x="700" y="442.8">D3</text></g>
<g id="n95"><circle class="n c11" cx="688" cy="452" r="5"/><text class="t5" x="688" y="453.8">95</text></g>
<g id="nR2"><circle class="n co" cx="441" cy="556" r="5"/><text class="t5" x="441" y="557.8">R2</text></g>
<g id="nD2"><circle class="n co" cx="458" cy="556" r="5"/><text class="t5" x="458" y="557.8">D2</text></g>
<g id="nR5"><circle class="n co" cx="431" cy="572" r="5"/><text class="t5" x="431" y="573.8">R5</text></g>
<g id="n2"><circle class="n c1" cx="448" cy="578" r="5"/><text class="t5" x="448" y="579.8">2</text></g>
<g id="n98"><circle class="n c11" cx="467" cy="572" r="5"/><text class="t5" x="467" y="573.8">98</text></g>
</g>
<g id="legend">
<rect x="729" y="405" width="214" height="195" fill="#e6e6e6"/>
<rect x="732" y="415" width="11" height="11" class="c4"/><text class="lg" x="752" y="424">CHAPTER IV</text><text class="lg" x="877" y="424">(18.35%)</text>
<rect x="732" y="430" width="11" height="11" class="c7"/><text class="lg" x="752" y="439">CHAPTER VII</text><text class="lg" x="877" y="439">(15.6%)</text>
<rect x="732" y="445" width="11" height="11" class="c3"/><text class="lg" x="752" y="454">CHAPTER III</text><text class="lg" x="877" y="454">(11.01%)</text>
<rect x="732" y="461" width="11" height="11" class="co"/><text class="lg" x="752" y="470">Other</text><text class="lg" x="877" y="470">(9.17%)</text>
<rect x="732" y="476" width="11" height="11" class="c6"/><text class="lg" x="752" y="485">CHAPTER VI</text><text class="lg" x="877" y="485">(8.26%)</text>
<rect x="732" y="491" width="11" height="11" class="c8"/><text class="lg" x="752" y="500">CHAPTER VIII</text><text class="lg" x="877" y="500">(7.34%)</text>
<rect x="732" y="506" width="11" height="11" class="c9"/><text class="lg" x="752" y="515">CHAPTER IX</text><text class="lg" x="877" y="515">(6.42%)</text>
<rect x="732" y="521" width="11" height="11" class="c2"/><text class="lg" x="752" y="530">CHAPTER II</text><text class="lg" x="877" y="530">(6.42%)</text>
<rect x="732" y="537" width="11" height="11" class="c5"/><text class="lg" x="752" y="546">CHAPTER V</text><text class="lg" x="877" y="546">(6.42%)</text>
<rect x="732" y="552" width="11" height="11" class="c11"/><text class="lg" x="752" y="561">CHAPTER XI</text><text class="lg" x="877" y="561">(5.5%)</text>
<rect x="732" y="567" width="11" height="11" class="c1"/><text class="lg" x="752" y="576">CHAPTER I</text><text class="lg" x="877" y="576">(3.67%)</text>
<rect x="732" y="582" width="11" height="11" class="c10"/><text class="lg" x="752" y="591">CHAPTER X</text><text class="lg" x="877" y="591">(1.83%)</text>
</g>
<g id="dots">
<circle class="dot" cx="340" cy="194" r="4"/>
<circle class="dot" cx="329" cy="140" r="4"/>
<circle class="dot" cx="200" cy="250" r="4"/>
<circle class="dot" cx="248" cy="264" r="4"/>
<circle class="dot" cx="313" cy="241" r="4"/>
<circle class="dot" cx="329" cy="302" r="4"/>
<circle class="dot" cx="470" cy="141" r="4"/>
<circle class="dot" cx="607" cy="205" r="4"/>
<circle class="dot" cx="630" cy="236" r="4"/>
</g>
</svg>
